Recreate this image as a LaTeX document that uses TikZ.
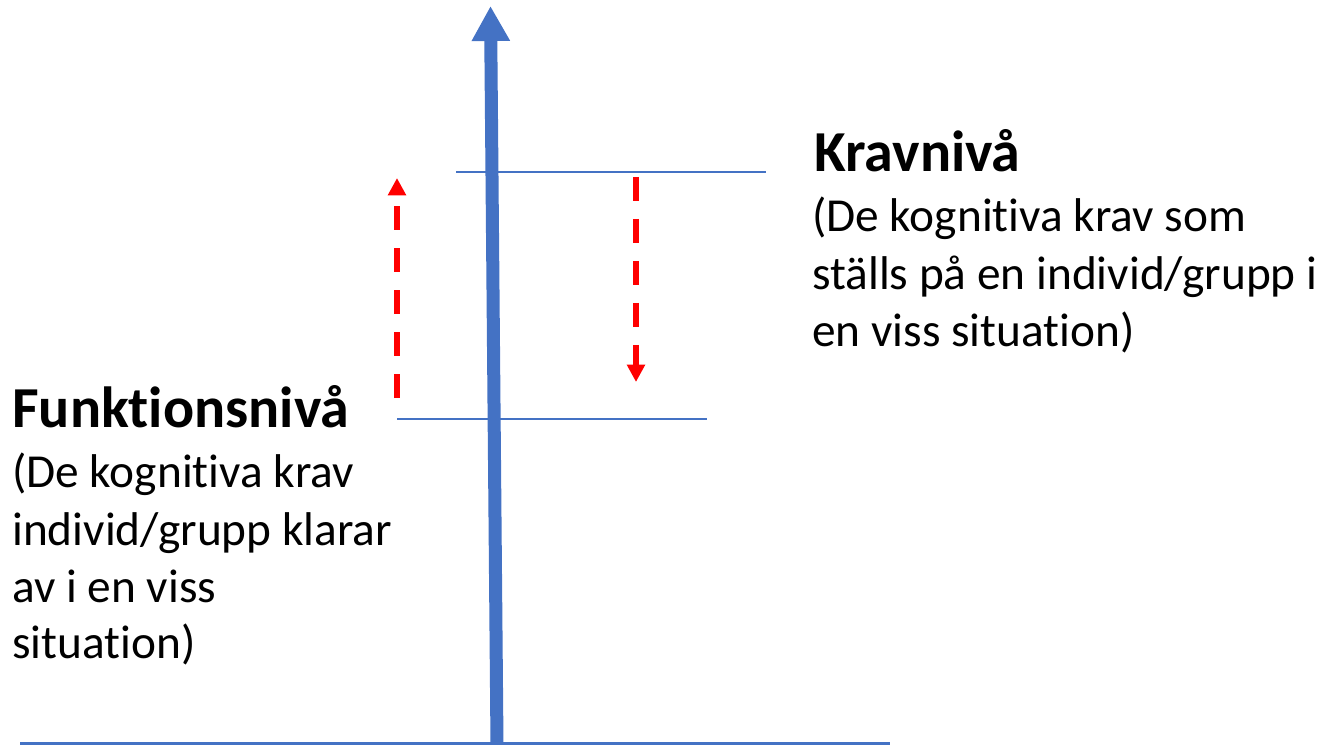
\documentclass[tikz,border=0pt]{standalone}
\usepackage{fontspec}
\setmainfont{Carlito}[Ligatures=NoCommon]
\usetikzlibrary{arrows.meta}
\definecolor{axisblue}{HTML}{4472C4}
\definecolor{arrred}{HTML}{FF0000}
\begin{document}
\begin{tikzpicture}[x=0.75pt,y=-0.75pt,
  title/.style={font=\fontsize{43.5}{52}\selectfont\bfseries, inner sep=0pt, anchor=base west},
  body/.style={font=\fontsize{35.5}{43}\selectfont, inner sep=0pt, anchor=base west},
  level/.style={draw=axisblue, line width=1pt},
  reddash/.style={draw=arrred, line width=4.5pt, dash pattern=on 18pt off 13.5pt,
    -{Triangle[width=13pt,length=13pt]}}]
\useasboundingbox (0,0) rectangle (1332,745);
% axes
\coordinate (base) at (497,745);
\coordinate (top) at (490.5,6);
\coordinate (bl) at (20,743.5);
\coordinate (br) at (890,743.5);
\draw[axisblue, line width=2.25pt] (bl) -- (br);
\draw[axisblue, line width=9.75pt, -{Triangle[width=27pt,length=26.25pt]}] (base) -- (top);
% levels
\coordinate (k1) at (456,172);
\coordinate (k2) at (766,172);
\coordinate (f1) at (397,419);
\coordinate (f2) at (707,419);
\draw[level] (k1) -- (k2);
\draw[level] (f1) -- (f2);
% red arrows
\coordinate (u1) at (397,398);
\coordinate (u2) at (397,178);
\coordinate (d1) at (636,177);
\coordinate (d2) at (636,382);
\draw[reddash] (u1) -- (u2);
\draw[reddash] (d1) -- (d2);
% texts
\node[title] (kt) at (814,172) {Kravnivå};
\node[body] (kb1) at (812,232) {(De kognitiva krav som};
\node[body] (kb2) at (812,290) {ställs på en individ/grupp i};
\node[body] (kb3) at (812,347) {en viss situation)};
\node[title] (ft) at (12,427) {Funktionsnivå};
\node[body] (fb1) at (12,487) {(De kognitiva krav};
\node[body] (fb2) at (12,545) {individ/grupp klarar};
\node[body] (fb3) at (12,602) {av i en viss};
\node[body] (fb4) at (12,658) {situation)};
\end{tikzpicture}
\end{document}
